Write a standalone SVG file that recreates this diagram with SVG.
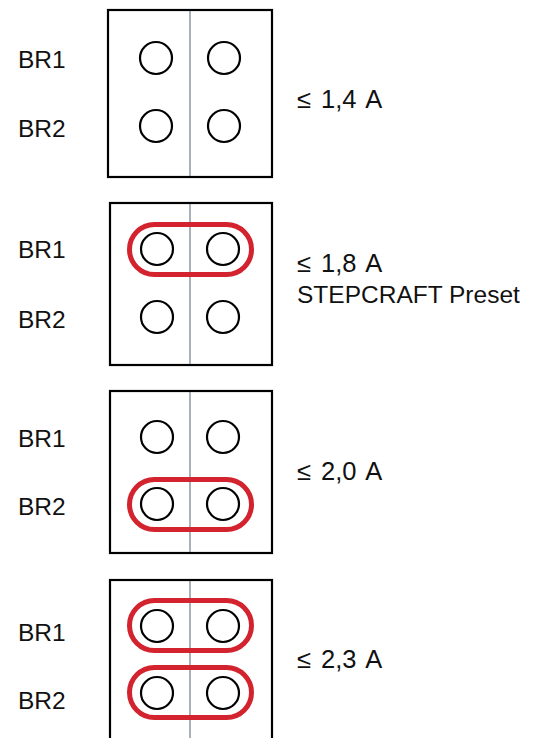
<svg xmlns="http://www.w3.org/2000/svg" width="540" height="738" viewBox="0 0 540 738">
<style>
.box{fill:#fff;stroke:#000;stroke-width:2.2}
.div{stroke:#6e7e88;stroke-width:1.2}
.hole{fill:none;stroke:#000;stroke-width:2.2}
.pill{fill:none;stroke:#d2232e;stroke-width:5}
text{font-family:"Liberation Sans",Arial,sans-serif;font-size:24.5px;fill:#111}
.amp{word-spacing:3px;font-size:25.5px}
</style>
<rect width="540" height="738" fill="#fff"/>
<g id="config1">
<rect class="box" x="108" y="10" width="164" height="167"/>
<line class="div" x1="190" y1="11" x2="190" y2="176"/>
<circle class="hole" cx="156" cy="58" r="16"/>
<circle class="hole" cx="224" cy="58" r="16"/>
<circle class="hole" cx="156" cy="126" r="16"/>
<circle class="hole" cx="224" cy="126" r="16"/>
<text x="18" y="68">BR1</text>
<text x="18" y="137">BR2</text>
<text class="amp" x="297" y="108">≤ 1,4 A</text>
</g>
<g id="config2">
<rect class="box" x="110" y="203" width="162" height="162"/>
<line class="div" x1="190" y1="204" x2="190" y2="364"/>
<circle class="hole" cx="157" cy="249" r="16"/>
<circle class="hole" cx="223" cy="249" r="16"/>
<circle class="hole" cx="157" cy="317" r="16"/>
<circle class="hole" cx="223" cy="317" r="16"/>
<rect class="pill" x="129.5" y="224.5" width="122" height="50" rx="25"/>
<text x="18" y="258">BR1</text>
<text x="18" y="328">BR2</text>
<text class="amp" x="297" y="272">≤ 1,8 A</text>
<text x="297" y="303">STEPCRAFT Preset</text>
</g>
<g id="config3">
<rect class="box" x="110" y="391" width="162" height="162"/>
<line class="div" x1="190" y1="392" x2="190" y2="552"/>
<circle class="hole" cx="157" cy="437" r="16"/>
<circle class="hole" cx="223" cy="437" r="16"/>
<circle class="hole" cx="157" cy="504" r="16"/>
<circle class="hole" cx="223" cy="504" r="16"/>
<rect class="pill" x="129.5" y="479.5" width="122" height="50" rx="25"/>
<text x="18" y="447">BR1</text>
<text x="18" y="515">BR2</text>
<text class="amp" x="297" y="480">≤ 2,0 A</text>
</g>
<g id="config4">
<rect class="box" x="110" y="580" width="162" height="170"/>
<line class="div" x1="190" y1="581" x2="190" y2="738"/>
<circle class="hole" cx="157" cy="626" r="16"/>
<circle class="hole" cx="223" cy="626" r="16"/>
<circle class="hole" cx="157" cy="693" r="16"/>
<circle class="hole" cx="223" cy="693" r="16"/>
<rect class="pill" x="129.5" y="600.5" width="122" height="50" rx="25"/>
<rect class="pill" x="129.5" y="667.5" width="122" height="50" rx="25"/>
<text x="18" y="641">BR1</text>
<text x="18" y="709">BR2</text>
<text class="amp" x="297" y="668">≤ 2,3 A</text>
</g>
<g id="connectors"></g>
</svg>
